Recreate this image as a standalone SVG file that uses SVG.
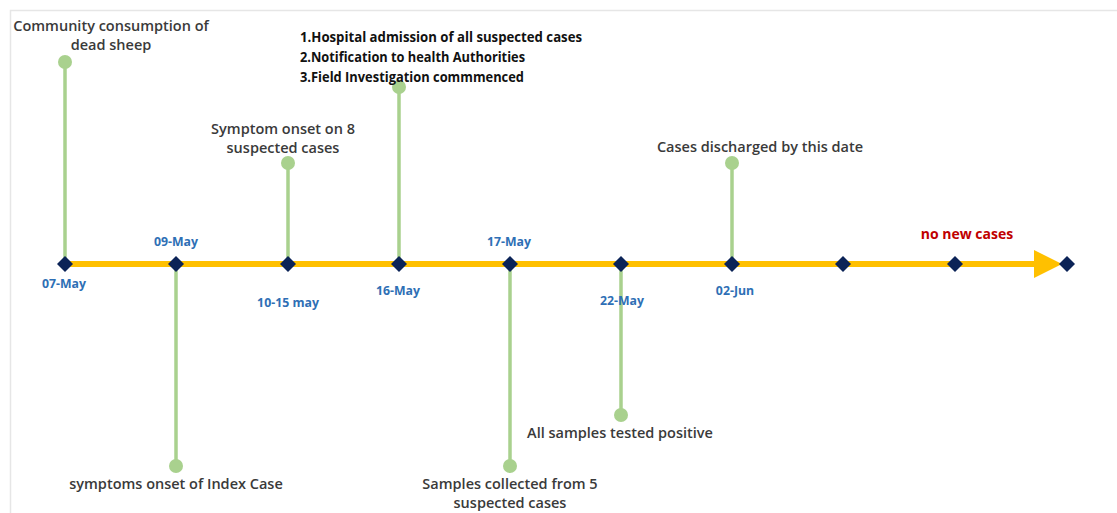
<svg xmlns="http://www.w3.org/2000/svg" width="1117" height="513" viewBox="0 0 1117 513">
<style>
.stem{stroke:#a9d18e;stroke-width:3.5;fill:none}
.dot{fill:#a9d18e}
.dia{fill:#0b2357}
.ev{font-family:"Open Sans","Liberation Sans",sans-serif;font-weight:600;font-size:14.5px;fill:#3a3a3a;text-anchor:middle}
.hd{font-family:"Open Sans","Liberation Sans",sans-serif;font-weight:700;font-size:15px;fill:#111}
.dt{font-family:"Open Sans","Liberation Sans",sans-serif;font-weight:700;font-size:12.3px;fill:#2e6fb5;text-anchor:middle}
.red{font-family:"Open Sans","Liberation Sans",sans-serif;font-weight:700;font-size:14px;fill:#c00000;text-anchor:middle}
</style>
<rect width="1117" height="513" fill="#fff"/>
<path d="M10.5 513V10.5H1117" fill="none" stroke="#e6e6e6" stroke-width="1.5"/>
<g id="connectors">
<line x1="65" y1="264" x2="1036" y2="264" stroke="#ffc000" stroke-width="6"/>
<polygon points="1034,250 1062,264 1034,278" fill="#ffc000"/>
<line class="stem" x1="65" y1="264" x2="65" y2="62"/>
<line class="stem" x1="176" y1="264" x2="176" y2="466"/>
<line class="stem" x1="288" y1="264" x2="288" y2="163"/>
<line class="stem" x1="399" y1="264" x2="399" y2="87"/>
<line class="stem" x1="510" y1="264" x2="510" y2="466"/>
<line class="stem" x1="621" y1="264" x2="621" y2="415"/>
<line class="stem" x1="732" y1="264" x2="732" y2="163"/>
</g>
<g id="n07may">
<circle class="dot" cx="65" cy="62" r="7"/>
<polygon class="dia" points="65,256 73,264 65,272 57,264"/>
<text class="ev" x="111" y="31">Community consumption of</text>
<text class="ev" x="111" y="50">dead sheep</text>
<text class="dt" x="64" y="288">07-May</text>
</g>
<g id="n09may">
<circle class="dot" cx="176" cy="466" r="7"/>
<polygon class="dia" points="176,256 184,264 176,272 168,264"/>
<text class="ev" x="176" y="489">symptoms onset of Index Case</text>
<text class="dt" x="176" y="246">09-May</text>
</g>
<g id="n1015may">
<circle class="dot" cx="288" cy="163" r="7"/>
<polygon class="dia" points="288,256 296,264 288,272 280,264"/>
<text class="ev" x="283" y="134">Symptom onset on 8</text>
<text class="ev" x="283" y="153">suspected cases</text>
<text class="dt" x="288" y="307">10-15 may</text>
</g>
<g id="n16may">
<circle class="dot" cx="399" cy="87" r="7"/>
<polygon class="dia" points="399,256 407,264 399,272 391,264"/>
<text class="hd" x="300" y="42" textLength="282" lengthAdjust="spacingAndGlyphs">1.Hospital admission of all suspected cases</text>
<text class="hd" x="300" y="62" textLength="225" lengthAdjust="spacingAndGlyphs">2.Notification to health Authorities</text>
<text class="hd" x="300" y="82" textLength="224" lengthAdjust="spacingAndGlyphs">3.Field Investigation commmenced</text>
<text class="dt" x="398" y="295">16-May</text>
</g>
<g id="n17may">
<circle class="dot" cx="510" cy="466" r="7"/>
<polygon class="dia" points="510,256 518,264 510,272 502,264"/>
<text class="ev" x="510" y="489">Samples collected from 5</text>
<text class="ev" x="510" y="508">suspected cases</text>
<text class="dt" x="509" y="246">17-May</text>
</g>
<g id="n22may">
<circle class="dot" cx="621" cy="415" r="7"/>
<polygon class="dia" points="621,256 629,264 621,272 613,264"/>
<text class="ev" x="620" y="438">All samples tested positive</text>
<text class="dt" x="622" y="305">22-May</text>
</g>
<g id="n02jun">
<circle class="dot" cx="732" cy="163" r="7"/>
<polygon class="dia" points="732,256 740,264 732,272 724,264"/>
<text class="ev" x="760" y="152">Cases discharged by this date</text>
<text class="dt" x="735" y="295">02-Jun</text>
</g>
<g id="nextra">
<polygon class="dia" points="843,256 851,264 843,272 835,264"/>
<polygon class="dia" points="955,256 963,264 955,272 947,264"/>
<polygon class="dia" points="1067,256 1075,264 1067,272 1059,264"/>
<text class="red" x="967" y="239">no new cases</text>
</g>
</svg>
